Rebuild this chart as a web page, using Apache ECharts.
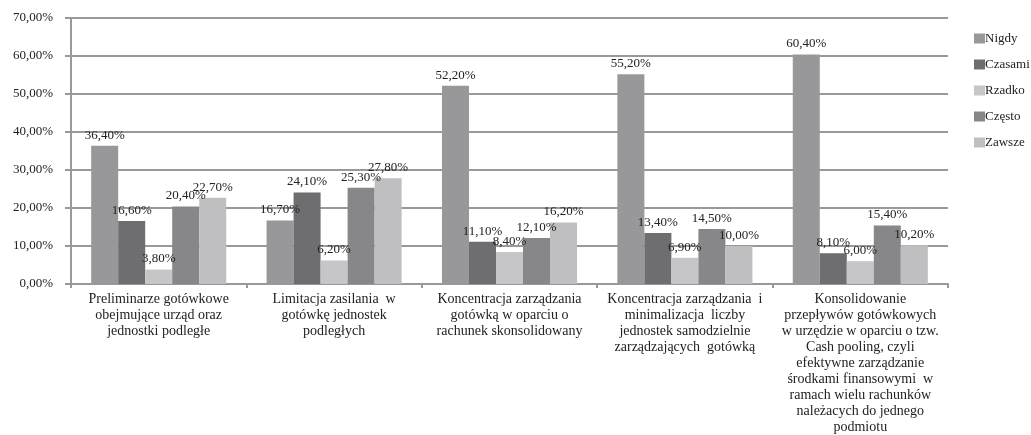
<!DOCTYPE html>
<html>
<head>
<meta charset="utf-8">
<script src="https://cdn.jsdelivr.net/npm/echarts@6/dist/echarts.min.js"></script>
<style>
  html, body { margin: 0; padding: 0; background: #fff; }
  #chart { width: 1031px; height: 435px; }
</style>
</head>
<body>
<div id="chart"></div>
<script>
// kategorie (oś X)
var categories = [
  'Preliminarze gotówkowe\nobejmujące urząd oraz\njednostki podległe',
  'Limitacja zasilania  w\ngotówkę jednostek\npodległych',
  'Koncentracja zarządzania\ngotówką w oparciu o\nrachunek skonsolidowany',
  'Koncentracja zarządzania  i\nminimalizacja  liczby\njednostek samodzielnie\nzarządzających  gotówką',
  'Konsolidowanie\nprzepływów gotówkowych\nw urzędzie w oparciu o tzw.\nCash pooling, czyli\nefektywne zarządzanie\nśrodkami finansowymi  w\nramach wielu rachunków\nnależacych do jednego\npodmiotu'
];
var seriesNames = ['Nigdy', 'Czasami', 'Rzadko', 'Często', 'Zawsze'];
var nigdy   = [36.4, 16.7, 52.2, 55.2, 60.4];
var czasami = [16.6, 24.1, 11.1, 13.4, 8.1];
var rzadko  = [3.8, 6.2, 8.4, 6.9, 6.0];
var czesto  = [20.4, 25.3, 12.1, 14.5, 15.4];
var zawsze  = [22.7, 27.8, 16.2, 10.0, 10.2];

var colors = ['#98989b', '#6e6e71', '#c6c6c8', '#87878a', '#bfbfc1'];
var font = '"Liberation Serif", "DejaVu Serif", serif';

function pct(v) {
  return v.toFixed(2).replace('.', ',') + '%';
}

var allData = [nigdy, czasami, rzadko, czesto, zawsze];

var myChart = echarts.init(document.getElementById('chart'));
myChart.setOption({
  animation: false,
  textStyle: { fontFamily: font },
  color: colors,
  grid: { left: 71, top: 18, right: 83, bottom: 151 },
  legend: {
    orient: 'vertical',
    left: 969,
    top: 27,
    itemWidth: 11,
    itemHeight: 10,
    itemGap: 13,
    icon: 'rect',
    textStyle: { fontFamily: font, fontSize: 13, color: '#222', padding: [0, 0, 0, -5] },
    data: seriesNames
  },
  xAxis: {
    type: 'category',
    data: categories,
    axisLine: { lineStyle: { color: '#999', width: 2 } },
    axisTick: { show: true, lineStyle: { color: '#999', width: 2 }, length: 4 },
    axisLabel: {
      interval: 0,
      fontFamily: font,
      fontSize: 14,
      color: '#222',
      lineHeight: 16,
      margin: 7
    }
  },
  yAxis: {
    type: 'value',
    min: 0,
    max: 70,
    interval: 10,
    axisLine: { show: true, lineStyle: { color: '#999', width: 2 } },
    axisTick: { show: true, inside: false, length: 6, lineStyle: { color: '#999', width: 2 } },
    splitLine: { lineStyle: { color: '#999', width: 2 } },
    axisLabel: {
      fontFamily: font,
      fontSize: 13,
      color: '#222',
      margin: 18,
      formatter: function (v) { return pct(v); }
    }
  },
  series: seriesNames.map(function (name, i) {
    return {
      name: name,
      type: 'bar',
      barGap: '0%',
      barCategoryGap: '23%',
      data: allData[i],
      label: {
        show: true,
        position: 'top',
        distance: 4,
        fontFamily: font,
        fontSize: 13,
        color: '#222',
        formatter: function (p) { return pct(p.value); }
      }
    };
  })
});
</script>
</body>
</html>
